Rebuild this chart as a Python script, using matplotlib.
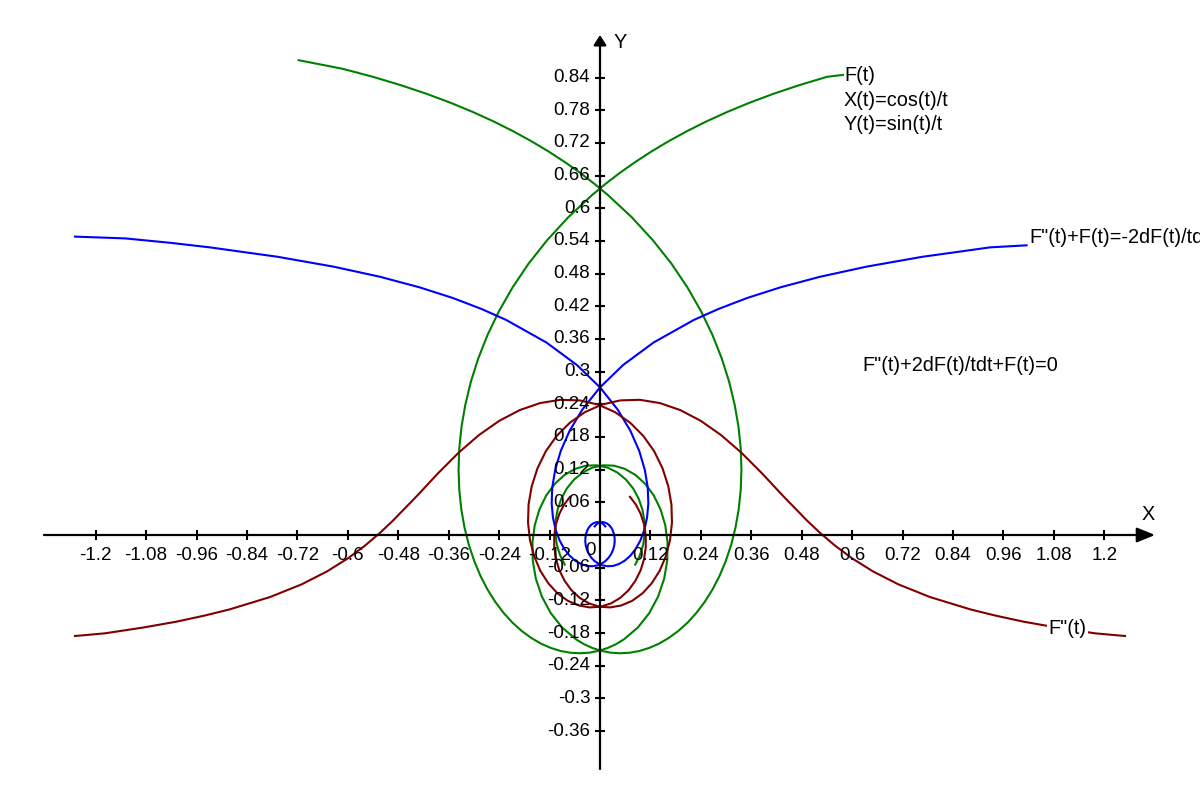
import matplotlib.pyplot as plt

plt.rcParams['font.family'] = ['Liberation Sans', 'DejaVu Sans']

# F(t): X(t)=cos(t)/t, Y(t)=sin(t)/t  (green), branch t>0 and branch t<0
green_r_x = [0.578, 0.5403, 0.4739, 0.4124, 0.3552, 0.3020, 0.2522, 0.2058, 0.1622, 0.1214, 0.0831, 0.0471, 0.0134, -0.0183,
             -0.0758, -0.1262, -0.1702, -0.2081, -0.2404, -0.2675, -0.2897, -0.3072, -0.3204, -0.3296, -0.3349, -0.3365,
             -0.3348, -0.3300, -0.3223, -0.3120, -0.2992, -0.2844, -0.2676, -0.2491, -0.2292, -0.2082, -0.1861, -0.1634,
             -0.1402, -0.1167, -0.0932, -0.0698, -0.0468, -0.0244, -0.0026, 0.0182, 0.0381, 0.0567,
             0.0901, 0.1175, 0.1385, 0.1527, 0.1600, 0.1607, 0.1552, 0.1440, 0.1279, 0.1077, 0.0845, 0.0593, 0.0331,
             0.0069, -0.0182, -0.0414, -0.0618, -0.0791, -0.0922, -0.1012, -0.1060, -0.1064, -0.1026, -0.0949, -0.0839]
green_r_y = [0.845, 0.8415, 0.8261, 0.8102, 0.7937, 0.7767, 0.7592, 0.7412, 0.7227, 0.7039, 0.6846, 0.6650, 0.6450, 0.6247,
             0.5834, 0.5410, 0.4981, 0.4546, 0.4110, 0.3675, 0.3242, 0.2815, 0.2394, 0.1983, 0.1583, 0.1196,
             0.0825, 0.0470, 0.0134, -0.0183, -0.0478, -0.0751, -0.1002, -0.1229, -0.1432, -0.1610, -0.1764, -0.1892,
             -0.1996, -0.2075, -0.2131, -0.2163, -0.2172, -0.2160, -0.2127, -0.2075, -0.2005, -0.1918,
             -0.1699, -0.1431, -0.1127, -0.0801, -0.0466, -0.0134, 0.0182, 0.0472, 0.0727, 0.0939, 0.1102, 0.1214, 0.1274,
             0.1280, 0.1237, 0.1147, 0.1017, 0.0853, 0.0665, 0.0458, 0.0242, 0.0026, -0.0182, -0.0374, -0.0544]
green_l_x = [-0.717, -0.6123, -0.5403, -0.4739, -0.4124, -0.3552, -0.3020, -0.2522, -0.2058, -0.1622, -0.1214, -0.0831, -0.0471, -0.0134, 0.0183,
             0.0758, 0.1262, 0.1702, 0.2081, 0.2404, 0.2675, 0.2897, 0.3072, 0.3204, 0.3296, 0.3349, 0.3365,
             0.3348, 0.3300, 0.3223, 0.3120, 0.2992, 0.2844, 0.2676, 0.2491, 0.2292, 0.2082, 0.1861, 0.1634,
             0.1402, 0.1167, 0.0932, 0.0698, 0.0468, 0.0244, 0.0026, -0.0182, -0.0381, -0.0567,
             -0.0901, -0.1175, -0.1385, -0.1527, -0.1600, -0.1607, -0.1552, -0.1440, -0.1279, -0.1077, -0.0845, -0.0593, -0.0331,
             -0.0069, 0.0182, 0.0414, 0.0618, 0.0791, 0.0922, 0.1012, 0.1060, 0.1064, 0.1026, 0.0949, 0.0839]
green_l_y = [0.872, 0.8562, 0.8415, 0.8261, 0.8102, 0.7937, 0.7767, 0.7592, 0.7412, 0.7227, 0.7039, 0.6846, 0.6650, 0.6450, 0.6247,
             0.5834, 0.5410, 0.4981, 0.4546, 0.4110, 0.3675, 0.3242, 0.2815, 0.2394, 0.1983, 0.1583, 0.1196,
             0.0825, 0.0470, 0.0134, -0.0183, -0.0478, -0.0751, -0.1002, -0.1229, -0.1432, -0.1610, -0.1764, -0.1892,
             -0.1996, -0.2075, -0.2131, -0.2163, -0.2172, -0.2160, -0.2127, -0.2075, -0.2005, -0.1918,
             -0.1699, -0.1431, -0.1127, -0.0801, -0.0466, -0.0134, 0.0182, 0.0472, 0.0727, 0.0939, 0.1102, 0.1214, 0.1274,
             0.1280, 0.1237, 0.1147, 0.1017, 0.0853, 0.0665, 0.0458, 0.0242, 0.0026, -0.0182, -0.0374, -0.0544]

# F''(t) (dark red)
red_r_x = [1.249, 1.1780, 1.0865, 1.0080, 0.9403, 0.8815, 0.7849, 0.7097, 0.6494, 0.6002, 0.5587, 0.5229, 0.4911,
           0.4350, 0.3846, 0.3362, 0.2881, 0.2397, 0.1910, 0.1424, 0.0946, 0.0484, 0.0047, -0.0357, -0.0718, -0.1031,
           -0.1289, -0.1487, -0.1624, -0.1700, -0.1712, -0.1666, -0.1566, -0.1419, -0.1231, -0.1010, -0.0765, -0.0506,
           -0.0243, 0.0015, 0.0261, 0.0485, 0.0682, 0.0842, 0.0968, 0.1049, 0.1089, 0.1088, 0.1046, 0.0966, 0.0853, 0.0714]
red_r_y = [-0.1855, -0.1806, -0.1699, -0.1592, -0.1479, -0.1367, -0.1139, -0.0906, -0.0668, -0.0431, -0.0192, 0.0043, 0.0276,
           0.0722, 0.1139, 0.1513, 0.1835, 0.2097, 0.2294, 0.2423, 0.2483, 0.2472, 0.2396, 0.2257, 0.2062, 0.1819,
           0.1538, 0.1226, 0.0898, 0.0560, 0.0227, -0.0093, -0.0391, -0.0658, -0.0886, -0.1072, -0.1209, -0.1294,
           -0.1330, -0.1317, -0.1256, -0.1153, -0.1012, -0.0841, -0.0646, -0.0439, -0.0222, -0.0006, 0.0201, 0.0392, 0.0560, 0.0701]
red_l_x = [-1.249, -1.1780, -1.0865, -1.0080, -0.9403, -0.8815, -0.7849, -0.7097, -0.6494, -0.6002, -0.5587, -0.5229, -0.4911,
           -0.4350, -0.3846, -0.3362, -0.2881, -0.2397, -0.1910, -0.1424, -0.0946, -0.0484, -0.0047, 0.0357, 0.0718, 0.1031,
           0.1289, 0.1487, 0.1624, 0.1700, 0.1712, 0.1666, 0.1566, 0.1419, 0.1231, 0.1010, 0.0765, 0.0506,
           0.0243, -0.0015, -0.0261, -0.0485, -0.0682, -0.0842, -0.0968, -0.1049, -0.1089, -0.1088, -0.1046, -0.0966, -0.0853, -0.0714]
red_l_y = red_r_y[:]

# F''(t)+F(t) (blue)
blue_r_x = [1.015, 0.9286, 0.7666, 0.6339, 0.5232, 0.4300, 0.3506, 0.2825, 0.2236,
            0.1278, 0.0550, -0.0003, -0.0419, -0.0723, -0.0934, -0.1067, -0.1136, -0.1150, -0.1120, -0.1055, -0.0962,
            -0.0849, -0.0722, -0.0586, -0.0449, -0.0315, -0.0185, -0.0066, 0.0041, 0.0133, 0.0209, 0.0269, 0.0312,
            0.0339, 0.0350, 0.0346, 0.0330, 0.0303, 0.0268, 0.0224, 0.0177, 0.0127, 0.0077, 0.0028, -0.0018, -0.0060,
            -0.0096, -0.0126]
blue_r_y = [0.532, 0.5283, 0.5109, 0.4928, 0.4742, 0.4550, 0.4354, 0.4153, 0.3951,
            0.3537, 0.3122, 0.2709, 0.2305, 0.1914, 0.1543, 0.1194, 0.0873, 0.0580, 0.0321, 0.0094, -0.0098,
            -0.0256, -0.0380, -0.0473, -0.0533, -0.0567, -0.0574, -0.0559, -0.0525, -0.0476, -0.0414, -0.0345, -0.0270,
            -0.0192, -0.0116, -0.0043, 0.0024, 0.0084, 0.0135, 0.0176, 0.0207, 0.0226, 0.0236, 0.0236, 0.0227, 0.0210,
            0.0186, 0.0157]
blue_l_x = [-1.249, -1.1294, -1.0234, -0.9286, -0.7666, -0.6339, -0.5232, -0.4300, -0.3506, -0.2825, -0.2236,
            -0.1278, -0.0550, 0.0003, 0.0419, 0.0723, 0.0934, 0.1067, 0.1136, 0.1150, 0.1120, 0.1055, 0.0962,
            0.0849, 0.0722, 0.0586, 0.0449, 0.0315, 0.0185, 0.0066, -0.0041, -0.0133, -0.0209, -0.0269, -0.0312,
            -0.0339, -0.0350, -0.0346, -0.0330, -0.0303, -0.0268, -0.0224, -0.0177, -0.0127, -0.0077, -0.0028, 0.0018, 0.0060,
            0.0096, 0.0126]
blue_l_y = [0.548, 0.5447, 0.5367, 0.5283, 0.5109, 0.4928, 0.4742, 0.4550, 0.4354, 0.4153, 0.3951,
            0.3537, 0.3122, 0.2709, 0.2305, 0.1914, 0.1543, 0.1194, 0.0873, 0.0580, 0.0321, 0.0094, -0.0098,
            -0.0256, -0.0380, -0.0473, -0.0533, -0.0567, -0.0574, -0.0559, -0.0525, -0.0476, -0.0414, -0.0345, -0.0270,
            -0.0192, -0.0116, -0.0043, 0.0024, 0.0084, 0.0135, 0.0176, 0.0207, 0.0226, 0.0236, 0.0236, 0.0227, 0.0210,
            0.0186, 0.0157]

x_ticks = [-1.2, -1.08, -0.96, -0.84, -0.72, -0.6, -0.48, -0.36, -0.24, -0.12,
           0.12, 0.24, 0.36, 0.48, 0.6, 0.72, 0.84, 0.96, 1.08, 1.2]
x_labels = ["-1.2", "-1.08", "-0.96", "-0.84", "-0.72", "-0.6", "-0.48", "-0.36", "-0.24", "-0.12",
            "0.12", "0.24", "0.36", "0.48", "0.6", "0.72", "0.84", "0.96", "1.08", "1.2"]
y_ticks = [0.84, 0.78, 0.72, 0.66, 0.6, 0.54, 0.48, 0.42, 0.36, 0.3, 0.24, 0.18, 0.12, 0.06,
           -0.06, -0.12, -0.18, -0.24, -0.3, -0.36]
y_labels = ["0.84", "0.78", "0.72", "0.66", "0.6", "0.54", "0.48", "0.42", "0.36", "0.3", "0.24", "0.18", "0.12", "0.06",
            "-0.06", "-0.12", "-0.18", "-0.24", "-0.3", "-0.36"]

GREEN = "#008000"
BLUE = "#0000ff"
RED = "#800000"
FS = 13.5   # tick labels
FA = 14.3   # annotations

fig = plt.figure(figsize=(12, 8), dpi=100)
ax = fig.add_axes([0, 0, 1, 1])
ax.set_xlim(-600 / 420.3, 600 / 420.3)
ax.set_ylim(-265 / 544.5, 535 / 544.5)
ax.axis("off")

# axes with arrows
ax.annotate("", xy=(1.3205, 0), xytext=(-1.323, 0),
            arrowprops=dict(arrowstyle="-|>,head_length=1.1,head_width=0.45", mutation_scale=10,
                            lw=1.6, color="black", shrinkA=0, shrinkB=0))
ax.annotate("", xy=(0, 0.9183), xytext=(0, -0.4298),
            arrowprops=dict(arrowstyle="-|>,head_length=0.6,head_width=0.38", mutation_scale=10,
                            lw=1.6, color="black", shrinkA=0, shrinkB=0))
ax.plot(x_ticks, [0] * len(x_ticks), ls="none", marker="|", ms=7.5, mew=1.5, color="black")
ax.plot([0] * len(y_ticks), y_ticks, ls="none", marker="_", ms=7.5, mew=1.5, color="black")

for xv, lab in zip(x_ticks, x_labels):
    ax.annotate(lab, (xv, 0), xytext=(0, -9), textcoords="offset points",
                ha="center", va="top", fontsize=FS)
for yv, lab in zip(y_ticks, y_labels):
    ax.annotate(lab, (0, yv), xytext=(-7, 0), textcoords="offset points",
                ha="right", va="center", fontsize=FS)
ax.annotate("0", (0, 0), xytext=(-3, -5), textcoords="offset points",
            ha="right", va="top", fontsize=FS)
ax.text(1.305, 0.0376, "X", ha="center", va="center", fontsize=FA)
ax.text(0.0488, 0.9045, "Y", ha="center", va="center", fontsize=FA)

# curves
ax.plot(green_r_x, green_r_y, color=GREEN, lw=1.5)
ax.plot(green_l_x, green_l_y, color=GREEN, lw=1.5)
ax.plot(blue_r_x, blue_r_y, color=BLUE, lw=1.5)
ax.plot(blue_l_x, blue_l_y, color=BLUE, lw=1.5)
ax.plot(red_r_x, red_r_y, color=RED, lw=1.5)
ax.plot(red_l_x, red_l_y, color=RED, lw=1.5)

# annotations
ax.text(0.5805, 0.8435, "F(t)", ha="left", va="center", fontsize=FA)
ax.text(0.5805, 0.7983, "X(t)=cos(t)/t", ha="left", va="center", fontsize=FA)
ax.text(0.5805, 0.7530, "Y(t)=sin(t)/t", ha="left", va="center", fontsize=FA)
ax.text(1.0219, 0.5455, 'F"(t)+F(t)=-2dF(t)/tdt', ha="left", va="center", fontsize=FA)
ax.text(0.6250, 0.3122, 'F"(t)+2dF(t)/tdt+F(t)=0', ha="left", va="center", fontsize=FA)
ax.text(1.0659, -0.1708, 'F"(t)', ha="left", va="center", fontsize=FA, zorder=5,
        bbox=dict(facecolor="white", edgecolor="none", pad=1))

fig.savefig("out.png", dpi=100)
